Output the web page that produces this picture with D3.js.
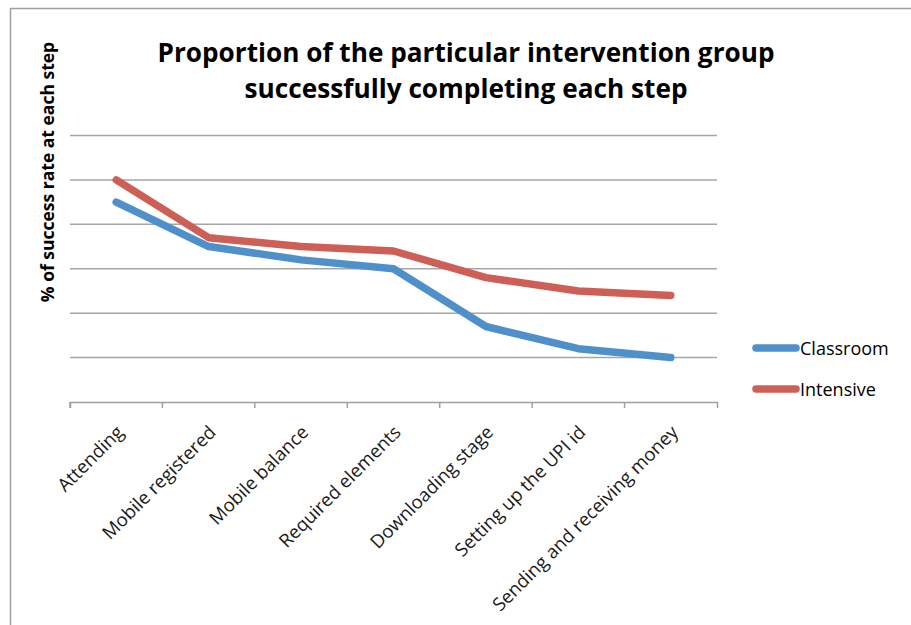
<!DOCTYPE html>
<html>
<head>
<meta charset="utf-8">
<script src="https://cdn.jsdelivr.net/npm/d3@7"></script>
<style>
  html, body { margin: 0; padding: 0; background: #fff; }
  svg { display: block; }
</style>
</head>
<body>
<svg id="chart" width="911" height="625"></svg>
<script>
// ---- data ----
const categories = ["Attending", "Mobile registered", "Mobile balance", "Required elements",
                    "Downloading stage", "Setting up the UPI id", "Sending and receiving money"];
const classroom = [90, 70, 64, 60, 34, 24, 20];
const intensive = [100, 74, 70, 68, 56, 50, 48];
const yTicks = [0, 20, 40, 60, 80, 100, 120];
const seriesNames = ["Classroom", "Intensive"];
const titleLines = ["Proportion of the particular intervention group", "successfully completing each step"];
const yTitle = "% of success rate at each step";

// ---- layout ----
const svg = d3.select("#chart");
const W = 911, H = 625;
const plot = { left: 70, right: 717, top: 135.5, bottom: 402 };
const colors = { Classroom: "#5090CA", Intensive: "#CD5F57" };
const FONT = "'Open Sans', 'Liberation Sans', sans-serif";

svg.append("rect").attr("width", W).attr("height", H).attr("fill", "#fff");
// chart frame
svg.append("rect")
  .attr("x", 10.5).attr("y", 8.5).attr("width", 1200).attr("height", 1200)
  .attr("fill", "none").attr("stroke", "#a0a0a0").attr("stroke-width", 1.5);

const x = d3.scaleBand().domain(categories).range([plot.left, plot.right]).padding(0);
const y = d3.scaleLinear().domain([0, 120]).range([plot.bottom, plot.top]);
const cx = c => x(c) + x.bandwidth() / 2;

// gridlines
svg.append("g")
  .selectAll("line")
  .data(yTicks.filter(v => v > 0))
  .join("line")
  .attr("x1", plot.left).attr("x2", plot.right)
  .attr("y1", d => y(d)).attr("y2", d => y(d))
  .attr("stroke", "#a6a6a6").attr("stroke-width", 1.5);

// x axis
const xAxisG = svg.append("g")
  .attr("transform", `translate(0,${plot.bottom})`)
  .call(d3.axisBottom(x).tickSize(0).tickSizeOuter(6).tickFormat(""));
xAxisG.select(".domain").attr("stroke", "#a0a0a0").attr("stroke-width", 1.5);
xAxisG.selectAll(".tick").remove();
xAxisG.selectAll("line.bound")
  .data(categories)
  .join("line")
  .attr("class", "bound")
  .attr("x1", d => x(d)).attr("x2", d => x(d))
  .attr("y1", 0).attr("y2", 6)
  .attr("stroke", "#a0a0a0").attr("stroke-width", 1.5);

// x labels
svg.append("g")
  .selectAll("text")
  .data(categories)
  .join("text")
  .attr("transform", d => `translate(${cx(d) - 1},${plot.bottom + 22}) rotate(-45)`)
  .attr("text-anchor", "end")
  .attr("dy", "0.72em")
  .attr("font-family", FONT)
  .attr("font-size", 18.5)
  .attr("fill", "#1a1a1a")
  .text(d => d);

// lines
const line = d3.line().x((d, i) => cx(categories[i])).y(d => y(d));
const series = [
  { name: "Classroom", values: classroom },
  { name: "Intensive", values: intensive }
];
svg.append("g")
  .selectAll("path")
  .data(series)
  .join("path")
  .attr("d", d => line(d.values))
  .attr("fill", "none")
  .attr("stroke", d => colors[d.name])
  .attr("stroke-width", 7.5)
  .attr("stroke-linecap", "round")
  .attr("stroke-linejoin", "round");

// title
const titleG = svg.append("g")
  .attr("font-family", FONT)
  .attr("font-weight", "bold")
  .attr("font-size", 27)
  .attr("fill", "#000")
  .attr("text-anchor", "middle");
const titleWidths = [617, 443];
titleLines.forEach((t, i) => {
  const el = titleG.append("text")
    .attr("x", 466).attr("y", 62 + i * 36)
    .text(t);
  const len = el.node().getComputedTextLength();
  if (Math.abs(len - titleWidths[i]) > 4) {
    el.attr("textLength", titleWidths[i]).attr("lengthAdjust", "spacingAndGlyphs");
  }
});

// y title
svg.append("text")
  .attr("transform", `translate(54,${172}) rotate(-90)`)
  .attr("text-anchor", "middle")
  .attr("font-family", FONT)
  .attr("font-weight", "bold")
  .attr("font-size", 17.5)
  .attr("fill", "#000")
  .text(yTitle);

// legend
const legend = svg.append("g");
const legendY = [348, 389];
seriesNames.forEach((n, i) => {
  legend.append("line")
    .attr("x1", 756).attr("x2", 796)
    .attr("y1", legendY[i]).attr("y2", legendY[i])
    .attr("stroke", colors[n]).attr("stroke-width", 7.5)
    .attr("stroke-linecap", "round");
  legend.append("text")
    .attr("x", 800).attr("y", legendY[i] + 7)
    .attr("font-family", FONT)
    .attr("font-size", 18)
    .attr("fill", "#000")
    .text(n);
});
</script>
</body>
</html>
